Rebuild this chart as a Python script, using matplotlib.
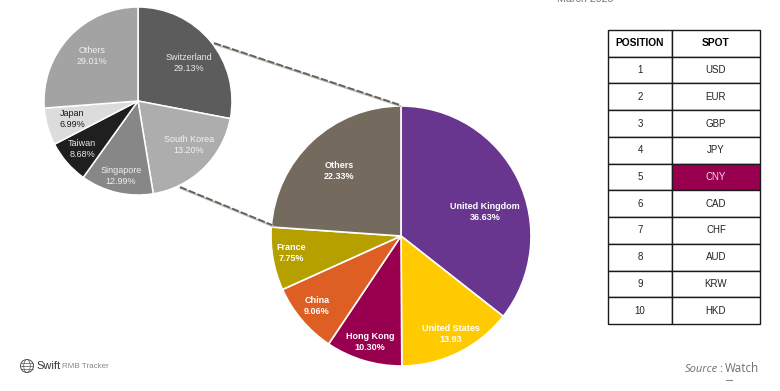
import matplotlib
matplotlib.use("Agg")
import matplotlib.pyplot as plt
from matplotlib.patches import Circle, Ellipse

plt.rcParams['font.family'] = ['Liberation Sans', 'DejaVu Sans']

# main pie - slices as drawn in the picture, they don't follow the printed labels exactly
main_names = ['United Kingdom', 'United States', 'Hong Kong', 'China', 'France', 'Others']
main_shares = [35.6, 14.3, 9.5, 8.85, 7.85, 23.9]
main_labels = ['36.63%', '13.93', '10.30%', '9.06%', '7.75%', '22.33%']
main_colors = ['#68358F', '#FFCB00', '#98004F', '#DD5F23', '#B5A000', '#756A5E']

# zoomed pie, same thing
small_names = ['Switzerland', 'South Korea', 'Singapore', 'Taiwan', 'Japan', 'Others']
small_shares = [28.0, 19.4, 12.5, 7.5, 6.4, 26.2]
small_labels = ['29.13%', '13.20%', '12.99%', '8.68%', '6.99%', '29.01%']
small_colors = ['#5C5C5C', '#ADADAD', '#878787', '#1F1F1F', '#DCDCDC', '#A3A3A3']
small_text = ['#E8E8E8', '#F2F2F2', '#F0F0F0', '#E8E8E8', '#1A1A1A', '#F0F0F0']

# table
positions = ['1', '2', '3', '4', '5', '6', '7', '8', '9', '10']
spots = ['USD', 'EUR', 'GBP', 'JPY', 'CNY', 'CAD', 'CHF', 'AUD', 'KRW', 'HKD']

W, H = 780, 391
fig = plt.figure(figsize=(W / 100, H / 100), dpi=100, facecolor='white')


def px_axes(x0, y0, x1, y1):
    return fig.add_axes([x0 / W, 1 - y1 / H, (x1 - x0) / W, (y1 - y0) / H])


# pies
ax1 = px_axes(401 - 131, 236 - 131, 401 + 131, 236 + 131)
ax1.pie(main_shares, colors=main_colors, startangle=90, counterclock=False, radius=1,
        wedgeprops=dict(edgecolor='white', linewidth=1.2))
ax1.set_xlim(-131 / 130, 131 / 130)
ax1.set_ylim(-131 / 130, 131 / 130)

ax2 = px_axes(138 - 95, 101 - 95, 138 + 95, 101 + 95)
ax2.pie(small_shares, colors=small_colors, startangle=90, counterclock=False, radius=1,
        wedgeprops=dict(edgecolor='white', linewidth=1.1))
ax2.set_xlim(-95 / 94, 95 / 94)
ax2.set_ylim(-95 / 94, 95 / 94)

# overlay in pixel coords for labels and connectors
ov = fig.add_axes([0, 0, 1, 1], zorder=5)
ov.set_xlim(0, W)
ov.set_ylim(H, 0)
ov.axis('off')
ov.patch.set_alpha(0)

for x0, y0, x1, y1 in [(214, 43, 400, 105), (180, 187, 272, 225)]:
    ov.plot([x0 + 0.7, x1 + 0.7], [y0 + 1.2, y1 + 1.2], color='#C4C0B8', lw=1.4, zorder=1)
    ov.plot([x0, x1], [y0, y1], color='#5F5F58', lw=1.3, ls=(0, (4, 1.2)), zorder=2)

main_xy = [(485, 212), (451, 334), (370, 342), (317, 306), (291, 253), (339, 171)]
for name, lab, (x, y) in zip(main_names, main_labels, main_xy):
    ov.text(x, y, name + '\n' + lab, color='white', fontsize=6.5, fontweight='bold',
            ha='center', va='center', linespacing=1.2)

small_xy = [(189, 63), (189, 145), (121, 176), (82, 149), (72, 119), (92, 56)]
for name, lab, c, (x, y) in zip(small_names, small_labels, small_text, small_xy):
    ov.text(x, y, name + '\n' + lab, color=c, fontsize=6.5,
            ha='center', va='center', linespacing=1.25)

# table
tab_ax = px_axes(608, 30, 760, 324)
tab_ax.axis('off')
rows = [[p, s] for p, s in zip(positions, spots)]
tb = tab_ax.table(cellText=[['POSITION', 'SPOT']] + rows, cellLoc='center',
                  colWidths=[64 / 152, 88 / 152], bbox=[0, 0, 1, 1])
tb.auto_set_font_size(False)
for (r, c), cell in tb.get_celld().items():
    cell.set_linewidth(1.0)
    cell.set_edgecolor('#1A1A1A')
    cell.get_text().set_fontsize(7)
    cell.get_text().set_color('#222222')
    if r == 0:
        cell.get_text().set_fontweight('bold')
        cell.get_text().set_fontsize(7.4)
        cell.get_text().set_color('black')
tb[(5, 1)].set_facecolor('#98004F')
tb[(5, 1)].get_text().set_color('#F2D9E6')

# logo
gx, gy, gr = 27, 366, 6.5
ov.add_patch(Circle((gx, gy), gr, fc='none', ec='#555555', lw=0.7))
ov.add_patch(Ellipse((gx, gy), gr, gr * 2, fc='none', ec='#555555', lw=0.5))
for dy in (-3.2, 0, 3.2):
    ov.plot([gx - gr + 0.5, gx + gr - 0.5], [gy + dy, gy + dy], color='#555555', lw=0.5)
ov.text(36, 366, 'Swift', color='#333333', fontsize=8, ha='left', va='center')
ov.text(62, 367, 'RMB Tracker', color='#888888', fontsize=5.8, ha='left', va='center')

# source and clipped date
ov.text(685, 369, 'Source', color='#6F6F6F', fontsize=8, style='italic', ha='left', va='center',
        family='Open Sans')
ov.text(719, 369, ':', color='#6F6F6F', fontsize=8, ha='left', va='center', family='Open Sans')
ov.text(724.5, 369, 'Watch', color='#6F6F6F', fontsize=8.4, ha='left', va='center', family='Open Sans')
ov.plot([726, 732], [379.7, 379.7], color='#8A8A8A', lw=0.8)
ov.text(557, 2, 'March 2023', color='#777777', fontsize=7.7, ha='left', va='baseline')

fig.savefig('out.png', dpi=100)
